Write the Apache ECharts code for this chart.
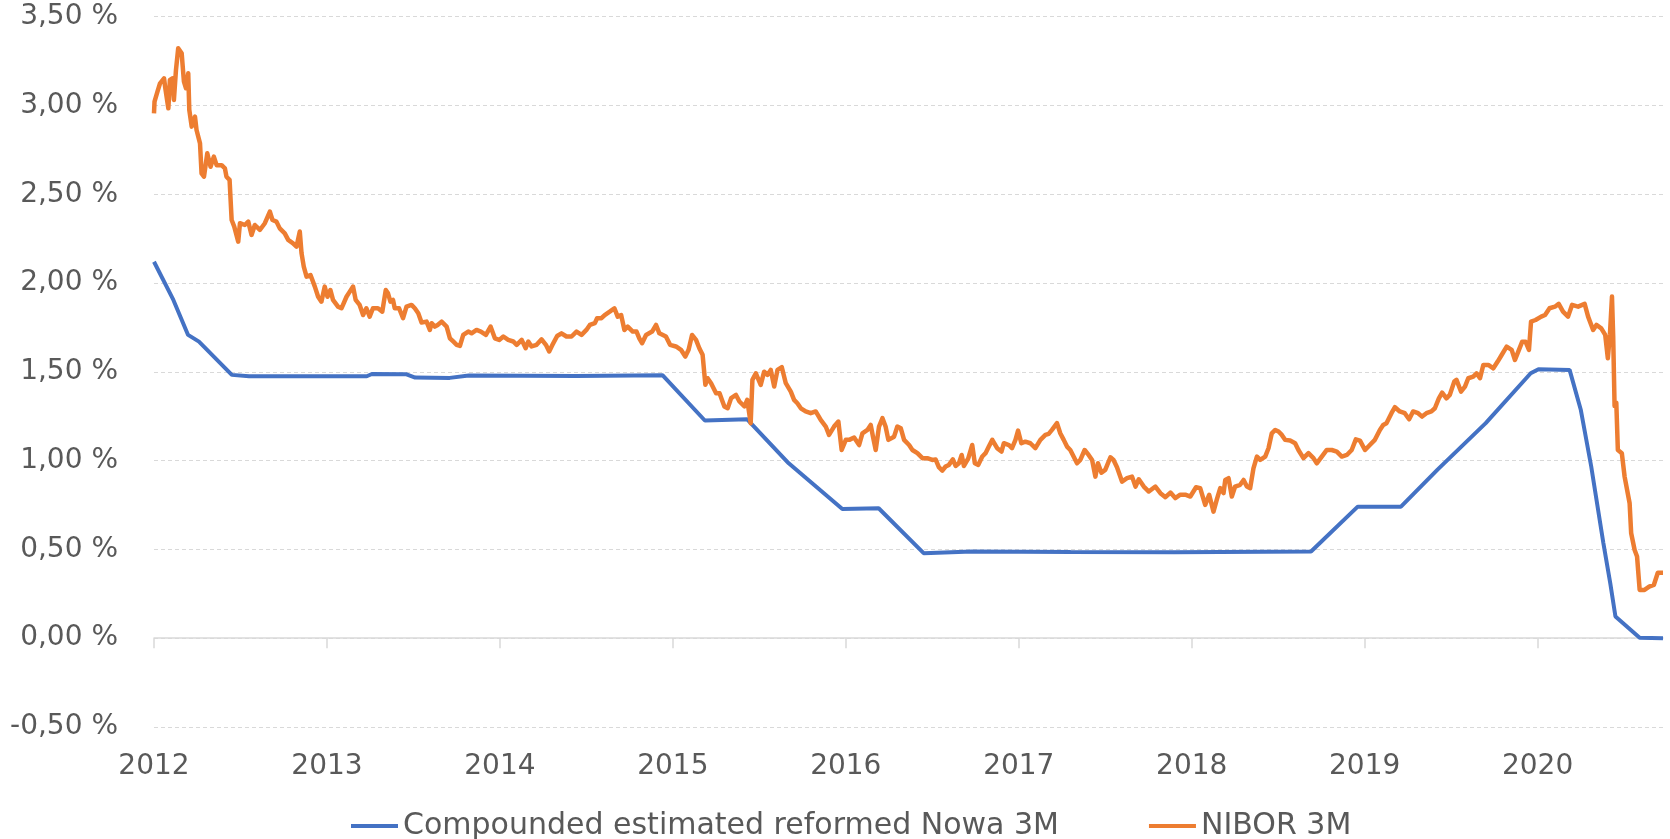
<!DOCTYPE html>
<html>
<head>
<meta charset="utf-8">
<script src="https://cdn.jsdelivr.net/npm/echarts@6/dist/echarts.min.js"></script>
<style>
html,body{margin:0;padding:0;background:#fff;}
#chart{width:1670px;height:839px;}
</style>
</head>
<body>
<div id="chart"></div>
<script>
const seriesNames = ['Compounded estimated reformed Nowa 3M', 'NIBOR 3M'];
const yearTicks = [2012, 2013, 2014, 2015, 2016, 2017, 2018, 2019, 2020];

const nowaYears = [2012.000, 2012.112, 2012.197, 2012.260, 2012.450, 2012.550, 2013.230, 2013.260, 2013.460, 2013.510, 2013.710, 2013.820, 2014.440, 2014.940, 2015.185, 2015.430, 2015.670, 2015.980, 2016.190, 2016.450, 2016.730, 2017.300, 2017.900, 2018.690, 2018.960, 2019.210, 2019.420, 2019.700, 2019.960, 2020.005, 2020.185, 2020.250, 2020.310, 2020.380, 2020.420, 2020.450, 2020.590, 2020.725];
const nowaValues = [2.120, 1.905, 1.708, 1.670, 1.483, 1.475, 1.475, 1.488, 1.486, 1.468, 1.466, 1.479, 1.477, 1.481, 1.226, 1.233, 0.985, 0.728, 0.732, 0.479, 0.488, 0.485, 0.484, 0.488, 0.741, 0.741, 0.948, 1.211, 1.492, 1.515, 1.511, 1.285, 0.967, 0.537, 0.310, 0.122, 0.003, 0.000];

const niborYears = [
2012.000,2012.003,2012.020,2012.035,2012.058,2012.065,2012.083,2012.092,2012.108,2012.115,2012.127,2012.140,2012.160,2012.173,2012.185,2012.198,2012.204,2012.218,2012.237,2012.246,
2012.266,2012.275,2012.289,2012.308,2012.327,2012.346,2012.362,2012.391,2012.410,2012.419,2012.437,2012.449,2012.464,2012.487,2012.497,2012.525,2012.545,2012.564,2012.583,2012.612,
2012.641,2012.670,2012.685,2012.708,2012.727,2012.756,2012.776,2012.804,2012.824,2012.843,2012.853,2012.866,2012.882,2012.905,2012.930,2012.949,2012.968,2012.987,2013.003,2013.020,
2013.035,2013.064,2013.084,2013.113,2013.132,2013.151,2013.166,2013.189,2013.209,2013.228,2013.247,2013.266,2013.295,2013.320,2013.340,2013.353,2013.367,2013.382,2013.392,2013.417,
2013.440,2013.460,2013.489,2013.508,2013.528,2013.547,2013.576,2013.595,2013.605,2013.624,2013.640,2013.663,2013.692,2013.711,2013.730,2013.750,2013.769,2013.788,2013.817,2013.836,
2013.865,2013.890,2013.919,2013.946,2013.971,2013.996,2014.020,2014.048,2014.077,2014.097,2014.126,2014.149,2014.164,2014.183,2014.212,2014.241,2014.266,2014.285,2014.304,2014.331,
2014.356,2014.385,2014.414,2014.443,2014.472,2014.500,2014.520,2014.549,2014.562,2014.587,2014.606,2014.635,2014.662,2014.681,2014.701,2014.720,2014.739,2014.768,2014.790,2014.806,
2014.822,2014.845,2014.880,2014.903,2014.922,2014.960,2014.984,2015.018,2015.047,2015.072,2015.091,2015.111,2015.134,2015.153,2015.172,2015.188,2015.201,2015.221,2015.250,2015.270,
2015.284,2015.298,2015.317,2015.337,2015.365,2015.385,2015.414,2015.430,2015.450,2015.460,2015.480,2015.508,2015.528,2015.547,2015.566,2015.586,2015.605,2015.630,2015.653,2015.682,
2015.701,2015.720,2015.740,2015.768,2015.797,2015.826,2015.855,2015.884,2015.903,2015.932,2015.957,2015.976,2016.000,2016.020,2016.048,2016.077,2016.096,2016.125,2016.144,2016.157,
2016.173,2016.192,2016.212,2016.230,2016.246,2016.279,2016.298,2016.318,2016.337,2016.366,2016.385,2016.414,2016.443,2016.471,2016.500,2016.519,2016.538,2016.558,2016.577,2016.596,
2016.619,2016.635,2016.654,2016.670,2016.683,2016.708,2016.731,2016.746,2016.766,2016.789,2016.808,2016.827,2016.847,2016.875,2016.900,2016.914,2016.943,2016.961,2016.981,2016.996,
2017.015,2017.038,2017.067,2017.096,2017.125,2017.154,2017.173,2017.192,2017.221,2017.240,2017.260,2017.279,2017.298,2017.308,2017.337,2017.356,2017.381,2017.404,2017.424,2017.443,
2017.458,2017.478,2017.500,2017.530,2017.548,2017.568,2017.597,2017.626,2017.655,2017.675,2017.694,2017.723,2017.752,2017.790,2017.819,2017.848,2017.877,2017.905,2017.934,2017.963,
2017.992,2018.025,2018.049,2018.078,2018.101,2018.126,2018.145,2018.165,2018.184,2018.194,2018.213,2018.232,2018.251,2018.280,2018.300,2018.319,2018.338,2018.357,2018.377,2018.396,
2018.425,2018.444,2018.463,2018.483,2018.502,2018.521,2018.540,2018.569,2018.598,2018.617,2018.646,2018.675,2018.704,2018.723,2018.752,2018.781,2018.810,2018.839,2018.868,2018.897,
2018.925,2018.949,2018.973,2019.002,2019.030,2019.059,2019.088,2019.107,2019.126,2019.155,2019.175,2019.203,2019.232,2019.257,2019.280,2019.309,2019.332,2019.357,2019.386,2019.406,
2019.429,2019.448,2019.473,2019.492,2019.518,2019.531,2019.557,2019.580,2019.599,2019.628,2019.647,2019.667,2019.686,2019.715,2019.744,2019.769,2019.792,2019.821,2019.850,2019.869,
2019.888,2019.911,2019.930,2019.950,2019.962,2019.988,2020.021,2020.043,2020.069,2020.100,2020.122,2020.147,2020.176,2020.199,2020.234,2020.272,2020.292,2020.321,2020.340,2020.368,
2020.391,2020.406,2020.418,2020.430,2020.437,2020.445,2020.455,2020.464,2020.487,2020.503,2020.532,2020.541,2020.561,2020.575,2020.590,2020.618,2020.645,2020.672,2020.695,2020.725
];
const niborValues = [
2.956,3.022,3.078,3.125,3.153,3.100,2.984,3.144,3.153,3.031,3.200,3.322,3.294,3.134,3.097,3.181,2.975,2.881,2.937,2.862,
2.787,2.618,2.599,2.731,2.655,2.712,2.664,2.664,2.646,2.599,2.581,2.355,2.318,2.233,2.337,2.327,2.346,2.271,2.327,2.299,
2.337,2.402,2.355,2.346,2.308,2.280,2.243,2.224,2.205,2.290,2.168,2.092,2.036,2.045,1.980,1.923,1.895,1.980,1.923,1.961,
1.905,1.867,1.858,1.923,1.952,1.980,1.905,1.877,1.820,1.858,1.811,1.858,1.858,1.839,1.961,1.942,1.895,1.905,1.858,1.858,
1.802,1.867,1.877,1.858,1.830,1.778,1.783,1.736,1.774,1.755,1.764,1.783,1.755,1.689,1.671,1.652,1.646,1.708,1.727,1.717,
1.736,1.727,1.708,1.755,1.689,1.680,1.699,1.680,1.671,1.652,1.680,1.633,1.671,1.643,1.652,1.683,1.652,1.615,1.652,1.702,
1.717,1.699,1.699,1.727,1.708,1.736,1.764,1.774,1.802,1.802,1.820,1.839,1.858,1.811,1.820,1.736,1.755,1.727,1.727,1.689,
1.661,1.708,1.727,1.764,1.717,1.699,1.652,1.643,1.624,1.586,1.624,1.708,1.680,1.633,1.596,1.427,1.464,1.436,1.380,1.380,
1.342,1.305,1.295,1.352,1.370,1.333,1.305,1.342,1.211,1.455,1.492,1.427,1.501,1.483,1.511,1.417,1.511,1.526,1.436,1.389,
1.342,1.323,1.295,1.277,1.267,1.277,1.229,1.192,1.145,1.192,1.220,1.060,1.117,1.117,1.130,1.088,1.154,1.173,1.201,1.135,
1.060,1.192,1.239,1.192,1.117,1.135,1.192,1.182,1.117,1.088,1.060,1.042,1.014,1.014,1.004,1.007,0.963,0.944,0.967,0.976,
1.007,0.970,0.985,1.032,0.970,1.013,1.088,0.985,0.976,1.023,1.042,1.079,1.117,1.070,1.051,1.098,1.088,1.070,1.117,1.169,
1.098,1.107,1.098,1.070,1.117,1.145,1.151,1.173,1.211,1.154,1.117,1.079,1.060,1.051,0.985,1.004,1.060,1.032,1.004,0.910,
0.985,0.932,0.948,1.019,1.004,0.963,0.882,0.901,0.910,0.854,0.895,0.854,0.826,0.854,0.817,0.794,0.820,0.789,0.808,0.808,
0.798,0.850,0.845,0.751,0.808,0.713,0.780,0.845,0.817,0.891,0.901,0.798,0.854,0.864,0.891,0.854,0.845,0.957,1.023,1.004,
1.023,1.070,1.154,1.173,1.164,1.145,1.117,1.113,1.098,1.060,1.014,1.042,1.014,0.985,1.023,1.060,1.060,1.051,1.023,1.032,
1.060,1.120,1.113,1.060,1.088,1.117,1.173,1.201,1.211,1.267,1.301,1.277,1.267,1.233,1.277,1.267,1.248,1.267,1.277,1.295,
1.351,1.383,1.351,1.370,1.445,1.455,1.389,1.417,1.464,1.473,1.492,1.464,1.539,1.539,1.520,1.558,1.595,1.642,1.624,1.567,
1.614,1.670,1.670,1.624,1.783,1.792,1.811,1.820,1.858,1.867,1.883,1.839,1.811,1.877,1.867,1.883,1.811,1.736,1.764,1.745,
1.708,1.577,1.708,1.924,1.700,1.308,1.326,1.060,1.042,0.910,0.760,0.591,0.497,0.460,0.272,0.272,0.290,0.300,0.369,0.369
];

const zip = (xs, ys) => xs.map((x, i) => [x, ys[i]]);
const textColor = '#595959';
const font = 'DejaVu Sans';
const xMin = 2012, xMax = 2020.725;

const chart = echarts.init(document.getElementById('chart'), null, {renderer: 'canvas'});
chart.setOption({
  animation: false,
  backgroundColor: '#ffffff',
  grid: {left: 154, right: 7, top: 16.7, bottom: 112, containLabel: false},
  legend: {
    left: 346, top: 806,
    icon: 'rect', itemWidth: 47, itemHeight: 4, itemGap: 90,
    textStyle: {color: textColor, fontSize: 30, fontFamily: font, lineHeight: 30},
    data: seriesNames
  },
  xAxis: [
    {
      type: 'value', min: xMin, max: xMax, position: 'bottom',
      axisLine: {show: false, onZero: false},
      axisTick: {show: false},
      axisLabel: {customValues: yearTicks, margin: 26, color: textColor, fontSize: 28, fontFamily: font,
        formatter: v => String(Math.round(v))},
      splitLine: {show: false}
    },
    {
      type: 'value', min: xMin, max: xMax, position: 'bottom',
      axisLine: {show: true, onZero: true, onZeroAxisIndex: 0, lineStyle: {color: '#d9d9d9', width: 1.5}},
      axisTick: {show: true, length: 10, customValues: yearTicks, lineStyle: {color: '#d9d9d9', width: 1.5}},
      axisLabel: {show: false},
      splitLine: {show: false}
    }
  ],
  yAxis: {
    type: 'value', min: -0.5, max: 3.5, interval: 0.5,
    axisLine: {show: false}, axisTick: {show: false},
    axisLabel: {margin: 36, color: textColor, fontSize: 28, fontFamily: font,
      formatter: v => v.toFixed(2).replace('.', ',') + ' %'},
    splitLine: {lineStyle: {color: '#d9d9d9', type: [4, 3], width: 1}}
  },
  series: [
    {name: seriesNames[0], type: 'line', xAxisIndex: 0, data: zip(nowaYears, nowaValues), symbol: 'none',
     lineStyle: {color: '#4472C4', width: 4}, itemStyle: {color: '#4472C4'}},
    {name: seriesNames[1], type: 'line', xAxisIndex: 0, data: zip(niborYears, niborValues), symbol: 'none',
     lineStyle: {color: '#ED7D31', width: 4.5, join: 'round'}, itemStyle: {color: '#ED7D31'}}
  ]
});
</script>
</body>
</html>
